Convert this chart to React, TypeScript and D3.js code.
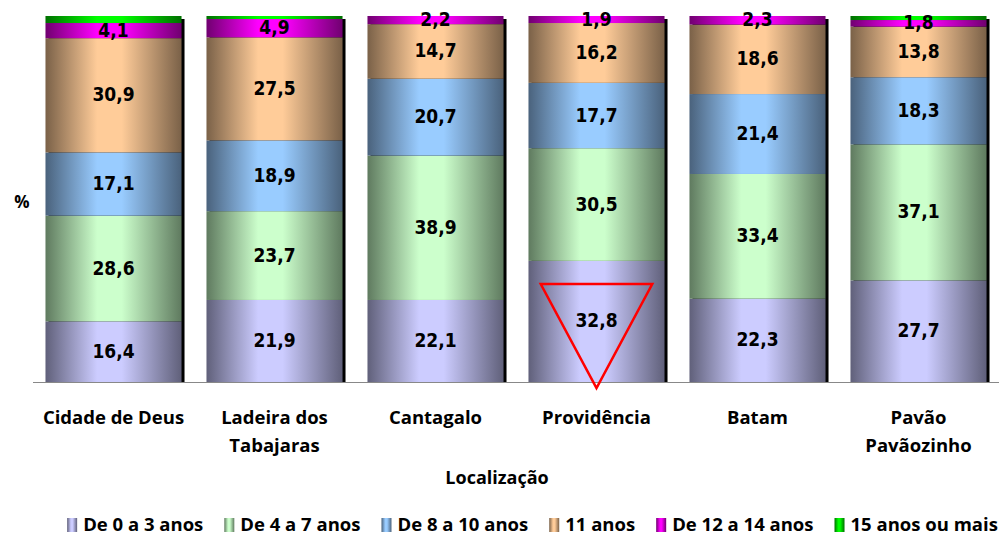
import React, { useEffect, useRef } from "react";
import * as d3 from "d3";

const categories = ["Cidade de Deus", "Ladeira dos\nTabajaras", "Cantagalo", "Providência", "Batam", "Pavão\nPavãozinho"];
const seriesNames = ["De 0 a 3 anos", "De 4 a 7 anos", "De 8 a 10 anos", "11 anos", "De 12 a 14 anos", "15 anos ou mais"];
const age0to3 = [16.4, 21.9, 22.1, 32.8, 22.3, 27.7];
const age4to7 = [28.6, 23.7, 38.9, 30.5, 33.4, 37.1];
const age8to10 = [17.1, 18.9, 20.7, 17.7, 21.4, 18.3];
const age11 = [30.9, 27.5, 14.7, 16.2, 18.6, 13.8];
const age12to14 = [4.1, 4.9, 2.2, 1.9, 2.3, 1.8];
const age15plus = [1.9, 0.8, 0, 0, 0, 1.1];
const lightColors = ["#CCCCFF", "#CCFFCC", "#99CCFF", "#FFCC99", "#FF00FF", "#00FF00"];
const darkColors = ["#60607A", "#5F7A5F", "#4A627C", "#7A6148", "#700070", "#007000"];
const highlighted = "Providência";

const W = 1007;
const H = 536;

export default function App() {
  const ref = useRef<SVGSVGElement>(null);

  useEffect(() => {
    const svg = d3.select(ref.current!);
    svg.selectAll("*").remove();

    const series = [age0to3, age4to7, age8to10, age11, age12to14, age15plus];
    const rows = categories.map((c, i) => {
      const r: any = { cat: c };
      seriesNames.forEach((s, j) => (r[s] = series[j][i]));
      return r;
    });
    const stacked = d3.stack<any>().keys(seriesNames).offset(d3.stackOffsetExpand)(rows);

    const x = d3.scaleBand<string>().domain(categories).range([33, 999]).paddingInner(0.155).paddingOuter(0.0775);
    const y = d3.scaleLinear().domain([0, 1]).range([382, 16]);
    const bw = x.bandwidth();

    const defs = svg.append("defs");
    seriesNames.forEach((s, j) => {
      const g = defs.append("linearGradient").attr("id", "grad" + j).attr("x1", "0%").attr("x2", "100%").attr("y1", "0%").attr("y2", "0%");
      g.append("stop").attr("offset", "0%").attr("stop-color", darkColors[j]);
      g.append("stop").attr("offset", "38%").attr("stop-color", lightColors[j]);
      g.append("stop").attr("offset", "56%").attr("stop-color", lightColors[j]);
      g.append("stop").attr("offset", "100%").attr("stop-color", darkColors[j]);
    });

    // shadows
    svg.append("g").selectAll("rect").data(categories).join("rect")
      .attr("x", (d) => x(d)! + 3)
      .attr("y", y(1) + 3)
      .attr("width", bw)
      .attr("height", y(0) - y(1) - 3)
      .attr("fill", "#000");

    // segments
    stacked.forEach((layer, j) => {
      svg.append("g").selectAll("rect").data(layer).join("rect")
        .attr("x", (d: any) => x(d.data.cat)!)
        .attr("y", (d: any) => y(d[1]))
        .attr("width", bw)
        .attr("height", (d: any) => Math.max(0, y(d[0]) - y(d[1])))
        .attr("fill", `url(#grad${j})`);
    });

    // baseline
    svg.append("line").attr("x1", 33).attr("x2", 999).attr("y1", 382.5).attr("y2", 382.5).attr("stroke", "#888").attr("stroke-width", 1);

    // data labels
    const fmt = (v: number) => d3.format(".1f")(v).replace(".", ",");
    stacked.forEach((layer, j) => {
      if (j === 5) return;
      svg.append("g").selectAll("text").data(layer).join("text")
        .attr("x", (d: any) => x(d.data.cat)! + bw / 2)
        .attr("y", (d: any) => (y(d[0]) + y(d[1])) / 2 - 1)
        .attr("text-anchor", "middle")
        .attr("dominant-baseline", "central")
        .attr("font-family", "'DejaVu Sans Condensed', 'DejaVu Sans', sans-serif")
        .attr("font-stretch", "condensed")
        .attr("font-weight", "bold")
        .attr("font-size", 19)
        .attr("fill", "#000")
        .text((d: any) => fmt(series[j][categories.indexOf(d.data.cat)]));
    });

    // triangle annotation on highlighted bar
    const cx = x(highlighted)! + bw / 2;
    const hw = bw * 0.41;
    const top = y(0) - 98;
    svg.append("path")
      .attr("d", `M${cx - hw},${top}L${cx + hw},${top}L${cx},${y(0) + 6}Z`)
      .attr("fill", "none").attr("stroke", "#FF0000").attr("stroke-width", 2.5).attr("stroke-linejoin", "miter");

    const font = "'Open Sans', sans-serif";
    // category labels
    const cl = svg.append("g").selectAll("text").data(categories).join("text")
      .attr("x", (d) => x(d)! + bw / 2)
      .attr("y", 424)
      .attr("text-anchor", "middle")
      .attr("font-family", font).attr("font-weight", "bold").attr("font-size", 18.5).attr("fill", "#000");
    cl.each(function (d) {
      const t = d3.select(this);
      d.split("\n").forEach((line, i) => {
        t.append("tspan").attr("x", x(d)! + bw / 2).attr("dy", i === 0 ? 0 : 28).text(line);
      });
    });

    svg.append("text").attr("x", 497).attr("y", 484).attr("text-anchor", "middle")
      .attr("font-family", font).attr("font-weight", "bold").attr("font-size", 18).text("Localização");

    svg.append("text").attr("x", 22).attr("y", 208).attr("text-anchor", "middle")
      .attr("font-family", font).attr("font-weight", "bold").attr("font-size", 17).text("%");

    // legend
    const lg = svg.append("g");
    const items = seriesNames.map((s, j) => {
      const g = lg.append("g");
      g.append("rect").attr("x", 0).attr("y", -13).attr("width", 10).attr("height", 14).attr("fill", `url(#grad${j})`);
      const t = g.append("text").attr("x", 16).attr("y", 0)
        .attr("font-family", font).attr("font-weight", "bold").attr("font-size", 18.5).text(s);
      const w = (t.node() as SVGTextElement).getComputedTextLength();
      return { g, w: 16 + w };
    });
    const gap = 21;
    const total = d3.sum(items, (d) => d.w) + gap * (items.length - 1);
    let cur = 532.5 - total / 2;
    items.forEach((it) => {
      it.g.attr("transform", `translate(${cur},531)`);
      cur += it.w + gap;
    });
  }, []);

  return (
    <svg ref={ref} width={W} height={H} style={{ position: "absolute", left: 0, top: 0, background: "#fff" }} />
  );
}
